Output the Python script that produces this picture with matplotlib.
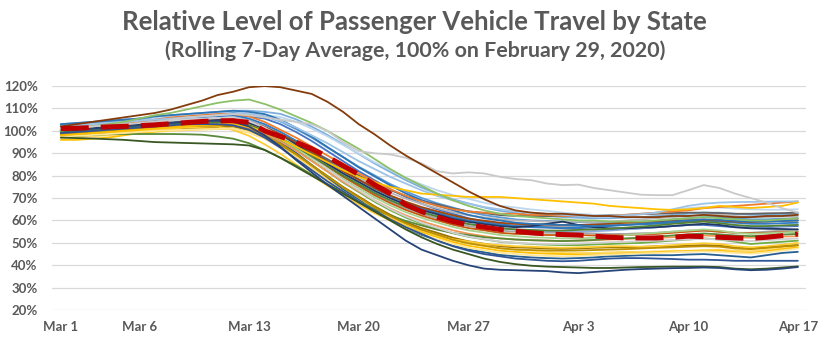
import matplotlib
matplotlib.use('Agg')
import matplotlib.pyplot as plt

plt.rcParams['font.family'] = ['Lato', 'DejaVu Sans']

# x positions are day offsets from Mar 1 (0) to Apr 17 (47)
days = list(range(48))
tick_days = [0, 5, 12, 19, 26, 33, 40, 47]
tick_labels = ['Mar 1', 'Mar 6', 'Mar 13', 'Mar 20', 'Mar 27', 'Apr 3', 'Apr 10', 'Apr 17']
y_ticks = [20, 30, 40, 50, 60, 70, 80, 90, 100, 110, 120]

# national rolling average
national = [101, 101.2, 101.5, 101.8, 102, 102.3, 102.7, 103.2,
            103.7, 104.2, 104.5, 104.5, 103.8, 100, 97.5, 95,
            92, 88.5, 84.5, 80.5, 76, 72, 67, 64,
            61.5, 59.5, 58, 57, 56, 55.2, 54.5, 54,
            53.7, 53.5, 53, 52.5, 52.2, 52.2, 52.2, 52.5,
            53, 52.8, 52.5, 52.2, 52, 52.5, 53.2, 54]

# individual states
line_01 = [102, 103, 104, 105, 106, 107, 108, 109.5,
           111.5, 113.5, 116, 117.5, 119.5, 120, 119.5, 118,
           116.5, 113, 108.5, 103, 98.5, 93.5, 89, 85,
           81, 77, 73, 69.5, 66.5, 64.5, 63.5, 63,
           63, 62.5, 62, 62, 61.5, 61.5, 61.5, 62,
           62, 62.5, 62, 61.5, 61.5, 62, 62, 62.5]
line_02 = [100, 101, 102, 103, 104, 105.5, 107, 108,
           109.5, 111, 112.5, 113.5, 114, 112, 109.5, 106.5,
           103.5, 100, 96, 92, 87.5, 83, 79, 75.5,
           72, 69, 66.5, 64.5, 63, 62, 61.5, 61,
           60.5, 60, 60, 59.5, 59.5, 59.5, 60, 60.5,
           61, 61.5, 61, 60.5, 60, 60, 60.5, 61]
line_03 = [101, 101.5, 102, 102.5, 103, 103.5, 104, 105,
           106, 106.5, 107, 107.5, 107, 106, 105, 104,
           103, 100, 95, 91, 90, 89.5, 88, 85.5,
           82, 81, 81.5, 81, 79.5, 78.5, 78, 76.5,
           75.8, 76, 74.5, 73.5, 72.5, 71.5, 71.3, 71.3,
           73.5, 75.8, 74.5, 72, 70, 68, 65.5, 63.5]
line_04 = [98, 98.5, 99, 99.5, 100, 100.5, 101, 101.5,
           102, 102.5, 103, 103, 102, 99.5, 96.5, 93,
           89.5, 86, 82.5, 79.5, 77, 75, 73.5, 72,
           71.5, 71, 70.5, 70.5, 70.5, 70, 69.5, 69,
           68.5, 68, 67.5, 66.5, 66, 65.5, 65, 64.7,
           65, 65.6, 66.5, 66, 65.6, 66, 66.5, 68]
line_05 = [101, 101.5, 102, 102.5, 103, 104, 105, 106,
           106.5, 107, 107.5, 107.5, 106.5, 104, 100.5, 97,
           93, 89, 85, 81, 77.5, 74, 71, 68.5,
           66.5, 65, 64, 63.5, 63, 63, 62.5, 62.5,
           62, 62, 62, 62, 62.5, 63, 63.5, 64,
           64.5, 65.5, 66, 66.5, 67, 67.5, 68, 68.5]
line_06 = [102, 102.5, 103, 103.5, 104, 104.5, 105, 105.5,
           106, 106.5, 107, 107.5, 107.5, 106.5, 104.5, 101.5,
           98, 94.5, 90.5, 86.5, 83, 79.5, 76.5, 73.5,
           71, 69, 67.5, 66, 65, 64, 63.5, 63,
           62.5, 62, 62, 62, 62.3, 62.8, 63.5, 65,
           66.5, 67.5, 68, 68.2, 68.3, 68.4, 68.5, 68.5]
line_07 = [100, 100.5, 101, 101.5, 102, 102.5, 103, 103.5,
           104, 104.5, 104.5, 104, 102, 98, 93, 87,
           81.5, 76, 71, 66, 61, 56, 51, 47,
           44.5, 42, 40, 38.5, 38, 37.8, 37.6, 37.4,
           36.8, 36.5, 37, 37.5, 38, 38.3, 38.5, 38.7,
           38.8, 39, 38.8, 38.2, 37.8, 38, 38.5, 39.2]
line_08 = [97, 96.8, 96.6, 96.3, 96, 95.5, 95, 94.8,
           94.6, 94.4, 94.2, 94, 93.5, 91.5, 88, 84,
           80, 76, 72, 68, 64, 60, 56, 52.5,
           49.5, 47, 45, 43, 41.5, 40.5, 39.8, 39.4,
           39.2, 39, 38.8, 38.8, 39, 39.2, 39.3, 39.4,
           39.4, 39.4, 39.2, 38.5, 38.2, 38.5, 39, 39.5]
line_09 = [99, 99.5, 100, 100.5, 101, 101.5, 102, 102.5,
           103, 103, 103, 102.5, 100.5, 97, 92.5, 87.5,
           82.5, 77.5, 73, 68.5, 64.5, 60.5, 57, 54,
           51, 48.5, 46.5, 45, 44, 43, 42.5, 42,
           41.8, 42, 42.5, 43, 43.2, 43.2, 43, 42.8,
           42.5, 42.5, 42.3, 42, 42, 42, 42, 42]
line_10 = [100, 100.5, 101, 101.5, 102, 102.5, 103, 103.5,
           104, 104.5, 105, 106, 104.6, 102.2, 98.8, 95,
           90.6, 86.3, 82, 78.2, 74.3, 71, 68.1, 65.7,
           63.8, 61.8, 60.4, 59.4, 58.5, 58, 57.8, 57.5,
           57.5, 57.8, 58, 58, 58.5, 59, 59.5, 60,
           60.5, 60.5, 60, 59.5, 59.5, 60, 60.5, 61]
line_11 = [97, 97.3, 97.6, 98, 98.5, 99, 99.5, 100,
           100.3, 100.6, 100.8, 101, 99.4, 96.7, 92.9, 88.6,
           83.7, 78.9, 74, 69.7, 65.4, 61.6, 58.3, 55.6,
           53.5, 51.3, 49.7, 48.6, 47.5, 47, 46.5, 46,
           45.5, 45.5, 45.5, 45.8, 46, 46, 46.2, 46.5,
           46.5, 46.8, 47, 46.5, 46.3, 47, 47.8, 48.5]
line_12 = [96, 96, 96.5, 97, 98, 99, 99.8, 100.3,
           100.6, 100.8, 101, 101, 99.3, 96.6, 92.8, 88.4,
           83.4, 78.4, 73.5, 69.1, 64.7, 60.8, 57.5, 54.8,
           52.6, 50.4, 48.7, 47.6, 46.5, 46, 45.5, 45.2,
           45, 44.8, 44.8, 45, 45.3, 45.5, 45.8, 46,
           46.3, 46.5, 46.5, 45.8, 45.5, 46.3, 47.2, 48]
line_13 = [101, 101.5, 102, 102.5, 103, 103.5, 104, 104.3,
           104.5, 104.8, 105, 105, 103.5, 101, 97.5, 93.5,
           89, 84.5, 80, 76, 72, 68.5, 65.5, 63,
           61, 59, 57.5, 56.5, 55.5, 55, 54.8, 54.5,
           54.5, 54.5, 54.2, 54, 54, 54.3, 54.5, 55,
           55.5, 55.5, 55, 54.5, 54.5, 55, 55.5, 56]
line_14 = [102.5, 103, 103.5, 104, 104.5, 105, 105.5, 106,
           106.5, 107, 107.5, 108, 107.5, 106.6, 104.2, 100.8,
           97, 92.6, 88.3, 84, 80.2, 76.3, 73, 70.1,
           67.7, 65.8, 63.8, 62.4, 61.4, 60.5, 60, 59.8,
           59.5, 59.3, 59, 59, 59.2, 59.5, 59.8, 60.5,
           61, 61.5, 61.5, 61, 60.5, 60.5, 60.8, 61]
line_15 = [102, 102.5, 103, 103.5, 104, 104.5, 105, 105.5,
           106, 106.3, 106.6, 107, 106.5, 105.5, 103, 99.5,
           95.5, 91, 86.5, 82, 78, 74, 70.5, 67.5,
           65, 63, 61, 59.5, 58.5, 57.5, 57, 56.8,
           56.5, 56.3, 56, 56, 56.3, 56.5, 57, 57.5,
           58, 58, 57.5, 57, 56.8, 57, 57.3, 57.5]
line_16 = [99, 99.5, 100, 100.5, 101, 101.5, 102, 102.5,
           103, 103.3, 103.6, 104, 102.4, 99.7, 95.9, 91.6,
           86.7, 81.9, 77, 72.7, 68.4, 64.6, 61.3, 58.6,
           56.5, 54.3, 52.7, 51.6, 50.5, 50, 49.5, 49.2,
           49, 49, 49.3, 49.5, 49.8, 50, 50.5, 51,
           51.5, 52, 51.5, 50.5, 49.5, 50, 50.5, 51]
line_17 = [98, 98.3, 98.6, 99, 99.5, 100, 100.5, 101,
           101.3, 101.6, 101.8, 102, 100.4, 97.7, 93.9, 89.6,
           84.7, 79.9, 75, 70.7, 66.4, 62.6, 59.3, 56.6,
           54.5, 52.3, 50.7, 49.6, 48.5, 48, 47.8, 47.5,
           47.3, 47.5, 47.8, 48, 48, 48.2, 48.5, 48.5,
           48.8, 49, 48.8, 48, 47.5, 48, 48.5, 49]
line_18 = [103, 103.5, 104, 104.5, 105, 105.5, 106.5, 107,
           107.5, 108, 108.5, 109, 109, 108.5, 107.6, 105.2,
           101.9, 98.2, 94, 89.7, 85.5, 81.7, 78, 74.7,
           71.9, 69.5, 67.6, 65.8, 64.3, 63.4, 62.5, 62,
           61.5, 61.2, 61, 61, 61.3, 61.5, 62, 62.5,
           63, 63.5, 63.5, 63, 62.5, 62.5, 62.8, 63]
line_19 = [100, 100.5, 101, 101.5, 102, 102.5, 103, 103.3,
           103.5, 103.7, 104, 104, 102.2, 99.2, 95, 90.2,
           84.8, 79.4, 74, 69.2, 64.4, 60.2, 56.6, 53.6,
           51.2, 48.8, 47, 45.8, 44.6, 44, 43.5, 43.2,
           43, 43.2, 43.5, 44, 44.2, 44.5, 44.5, 44.5,
           44.8, 45, 44.5, 44, 43.5, 44.5, 45.5, 46]
line_20 = [100, 100.5, 101, 101.5, 102, 102.5, 103, 103.5,
           104, 104.3, 104.7, 105, 103.5, 100.9, 97.4, 93.3,
           88.7, 84.1, 79.5, 75.4, 71.3, 67.8, 64.7, 62.2,
           60.1, 58.1, 56.6, 55.6, 54.5, 54, 53.8, 53.5,
           53.5, 53.5, 53.3, 53.3, 53.5, 53.8, 54, 54.5,
           55, 55.5, 55, 54.5, 54.3, 54.5, 54.8, 55]
line_21 = [100.5, 101, 101.5, 102, 102.5, 103, 103.5, 104,
           104.5, 105, 105.5, 106, 104.6, 102.3, 99.1, 95.4,
           91.3, 87.1, 83, 79.3, 75.6, 72.4, 69.7, 67.4,
           65.5, 63.7, 62.3, 61.4, 60.5, 60, 59.8, 59.5,
           59.5, 59.5, 59.3, 59.5, 60, 60.5, 61, 61.5,
           62, 62.5, 62.5, 62, 61.5, 61.5, 61.8, 62]
line_22 = [101, 101.5, 102, 102.5, 103, 103.5, 104, 104.5,
           105, 105.3, 105.7, 106, 104.5, 102, 98.5, 94.5,
           90, 85.5, 81, 77, 73, 69.5, 66.5, 64,
           62, 60, 58.5, 57.5, 56.5, 56, 55.5, 55.3,
           55, 55, 55.2, 55.5, 56, 56.5, 57, 57.5,
           58, 58.5, 58, 57.5, 57, 57.3, 57.6, 58]
line_23 = [97.5, 98, 98.5, 99, 99.5, 100, 100.5, 101,
           101.5, 101.8, 102, 100.4, 97.8, 94, 89.8, 85,
           80.3, 75.5, 71.3, 67, 63.3, 60.1, 57.5, 55.4,
           53.2, 51.6, 50.6, 49.5, 49, 48.5, 48.3, 48,
           47.8, 48, 48.2, 48.5, 48.5, 48.3, 48.5, 49,
           49.5, 49.8, 49.5, 48.5, 48, 48.5, 49.2, 50]
line_24 = [99.5, 100, 100.5, 101, 101.5, 102, 102.5, 103,
           103.3, 103.6, 103.8, 104, 102.5, 99.9, 96.4, 92.3,
           87.7, 83.1, 78.5, 74.4, 70.3, 66.8, 63.7, 61.2,
           59.1, 57.1, 55.6, 54.6, 53.5, 53, 52.5, 52.3,
           52, 52, 52.3, 52.8, 53.5, 54, 54.5, 55,
           55.5, 56, 55.5, 54.5, 54, 54.3, 54.6, 55]
line_25 = [102, 102.5, 103, 103.5, 104, 104.5, 105, 105.5,
           106, 106.3, 106.7, 107, 105.5, 103, 99.6, 95.6,
           91.2, 86.7, 82.3, 78.3, 74.3, 70.9, 67.9, 65.4,
           63.4, 61.5, 60, 59, 58, 57.5, 57.3, 57,
           56.8, 57, 57.2, 57.5, 58, 58.3, 58.5, 59,
           59.5, 60, 59.5, 59, 58.5, 58.5, 58.8, 59]
line_26 = [100, 100.5, 101, 101.5, 102, 102.5, 103, 103.5,
           104, 104.3, 104.7, 105, 103.7, 101.6, 98.5, 95.1,
           91.2, 87.4, 83.5, 80.1, 76.6, 73.6, 71, 68.9,
           67.2, 65.4, 64.1, 63.3, 62.4, 62, 62, 62,
           62, 62, 62.3, 62.5, 62.5, 62.8, 63, 63.3,
           63.5, 63.5, 63.3, 63, 63, 63.2, 63.3, 63.5]
line_27 = [99, 99.5, 100, 100.5, 101, 101.5, 102, 102.3,
           102.5, 102.7, 102.9, 103, 101.5, 98.9, 95.3, 91.2,
           86.5, 81.9, 77.3, 73.1, 69, 65.4, 62.3, 59.7,
           57.6, 55.6, 54.1, 53, 52, 51.5, 51.2, 51,
           50.8, 51, 51.2, 51.5, 51.8, 52, 52.3, 52.5,
           53, 53.3, 53, 52.5, 52.3, 52.5, 52.8, 53]
line_28 = [97.5, 97.8, 98.2, 98.5, 98.6, 98.6, 98.6, 98.6,
           98.5, 98.3, 97.5, 96.5, 94.5, 91.5, 88, 84.5,
           80.5, 76.3, 72.4, 68.5, 65.1, 62.2, 59.8, 57.8,
           55.9, 54.4, 53.5, 52.5, 52, 51.5, 51.2, 51,
           50.8, 51, 51.3, 51.8, 52, 52.3, 52.8, 53.3,
           53.8, 54.2, 53.8, 53.3, 53, 53.3, 53.7, 54]
line_29 = [97.5, 97.8, 98.2, 98.6, 99, 99.5, 100, 100.3,
           100.5, 100.7, 100.9, 101, 99.3, 96.5, 92.6, 88.1,
           83.1, 78, 73, 68.5, 64, 60.1, 56.8, 54,
           51.7, 49.5, 47.8, 46.7, 45.6, 45, 44.5, 44.2,
           44, 44.2, 44.5, 44.8, 45, 45.3, 45.5, 45.8,
           46, 46.2, 46, 45.5, 45.2, 45.8, 46.6, 47.5]
line_30 = [100, 100.5, 101, 101.5, 102, 102.5, 103, 103.5,
           104, 104.5, 105, 105.5, 104.1, 101.7, 98.4, 94.7,
           90.5, 86.2, 82, 78.2, 74.5, 71.2, 68.4, 66,
           64.1, 62.3, 60.8, 59.9, 59, 58.5, 58.3, 58.2,
           58, 58, 58.2, 58.5, 59, 59.3, 59.5, 59.8,
           60, 60.3, 60, 59.5, 59.3, 59.5, 59.8, 60]
line_31 = [100.5, 101, 101.5, 102, 102.5, 103, 103.5, 104,
           104.3, 104.5, 104.8, 105, 103.6, 101.2, 97.8, 94,
           89.6, 85.3, 81, 77.2, 73.3, 70, 67.1, 64.7,
           62.8, 60.8, 59.4, 58.4, 57.5, 57, 57.5, 58.5,
           59.5, 58, 57, 56.5, 56.5, 56.8, 57, 57.5,
           58, 58.5, 58, 57, 56.5, 56.3, 56.2, 56]
line_32 = [101, 101.5, 102, 102.5, 103, 103.5, 104, 104.5,
           105, 105.3, 105.7, 106, 104.3, 101.5, 97.6, 93.1,
           88.1, 83, 78, 73.5, 69, 65.1, 61.8, 59,
           56.7, 54.5, 52.8, 51.7, 50.6, 50, 49.7, 49.5,
           49.5, 49.7, 50, 50.3, 50.5, 50.8, 51, 51.3,
           51.5, 51.8, 51.5, 51, 50.8, 51.2, 51.6, 52]
line_33 = [102, 102.5, 103, 103.5, 104, 104.5, 105.5, 106.5,
           107, 107.3, 107.5, 107.5, 107.5, 107.1, 106.2, 104.1,
           101, 97.6, 93.7, 89.9, 86, 82.6, 79.1, 76.1,
           73.5, 71.4, 69.7, 67.9, 66.6, 65.8, 64.9, 64.3,
           63.5, 63, 62.5, 62.3, 62.5, 63, 63.5, 64.5,
           65.5, 66, 65.8, 65.3, 65, 64.8, 64.8, 65]
line_34 = [99.5, 100, 100.5, 101, 101.5, 102, 102.5, 103,
           103.3, 103.6, 103.8, 104, 102.6, 100.2, 96.8, 93,
           88.6, 84.3, 80, 76.2, 72.3, 69, 66.1, 63.7,
           61.8, 59.8, 58.4, 57.4, 56.5, 56, 55.8, 55.5,
           55.5, 55.8, 56, 56.3, 56.8, 57.3, 57.8, 58.5,
           59, 59.5, 58.8, 58, 57.5, 57.5, 57.8, 58]
line_35 = [98.5, 99, 99.5, 100, 100.5, 101, 101.5, 102,
           102.2, 102.3, 102.4, 102.5, 100.8, 98.1, 94.2, 89.7,
           84.7, 79.7, 74.7, 70.3, 65.9, 62, 58.7, 55.9,
           53.7, 51.4, 49.8, 48.7, 47.6, 47, 46.8, 46.6,
           46.5, 46.6, 46.8, 47, 47.2, 47.5, 47.8, 48,
           48.3, 48.5, 48.3, 47.5, 47.2, 47.8, 48.4, 49]
line_36 = [103, 103.5, 104, 104.5, 105, 105.5, 106.5, 107,
           107.5, 108, 108.5, 109, 108.5, 107.5, 105, 101.4,
           97.4, 92.8, 88.3, 83.7, 79.7, 75.7, 72.1, 69.1,
           66.6, 64.6, 62.5, 61, 60, 59, 58.5, 58.2,
           58, 57.8, 57.5, 57.8, 58, 58.5, 59, 59.5,
           60, 60.5, 60.3, 59.8, 59.5, 59.5, 59.8, 60]

state_lines = [line_13, line_10, line_11, line_12, line_14, line_15, line_16,
               line_17, line_18, line_19, line_20, line_21, line_22, line_23,
               line_24, line_25, line_26, line_27, line_28, line_29, line_30,
               line_31, line_32, line_33, line_34, line_35, line_36, line_05,
               line_06, line_04, line_09, line_08, line_07, line_02, line_03,
               line_01]
state_colors = ['#A5A5A5', '#F4B183', '#FFD966', '#FFC000', '#5B9BD5', '#4472C4',
                '#70AD47', '#997300', '#7CAFDD', '#255E91', '#C55A11', '#B7B7B7',
                '#8FAADC', '#FFCD33', '#A9D18E', '#327DC2', '#636363', '#F1975A',
                '#5A8A39', '#FFE699', '#9E480E', '#203864', '#D0D0D0', '#BDD7EE',
                '#548235', '#BF9000', '#2E75B6', '#ED7D31', '#9DC3E6', '#FFC000',
                '#2F5597', '#385723', '#264478', '#8CC168', '#C9C9C9', '#843C0C']

fig = plt.figure(figsize=(8.28, 3.43), dpi=100)
ax = fig.add_axes([0.063, 0.096, 0.911, 0.653])

for vals, col in zip(state_lines, state_colors):
    ax.plot(days, vals, color=col, lw=1.3, solid_capstyle='round')

ax.plot(days, national, color='#C00000', lw=3.6, dashes=(5.6, 2.4),
        dash_capstyle='butt', zorder=5)

ax.set_xlim(-0.55, 47.55)
ax.set_ylim(20, 120)
ax.set_yticks(y_ticks)
ax.set_yticklabels(['%d%%' % v for v in y_ticks])
ax.set_xticks(tick_days)
ax.set_xticklabels(tick_labels)
ax.grid(axis='y', color='#D9D9D9', lw=0.9)
ax.set_axisbelow(True)
for s in ax.spines.values():
    s.set_visible(False)
ax.tick_params(axis='y', length=0, pad=10.5, labelsize=9.5, labelcolor='#595959')
ax.tick_params(axis='x', length=0, pad=8, labelsize=9.5, labelcolor='#595959')
for lab in ax.get_xticklabels() + ax.get_yticklabels():
    lab.set_fontweight('bold')

fig.text(0.501, 0.936, 'Relative Level of Passenger Vehicle Travel by State',
         ha='center', va='center', fontsize=18.5, fontweight='bold', color='#595959')
fig.text(0.501, 0.852, '(Rolling 7-Day Average, 100% on February 29, 2020)',
         ha='center', va='center', fontsize=15.4, fontweight='bold', color='#595959')

fig.savefig('out.png', dpi=100)
